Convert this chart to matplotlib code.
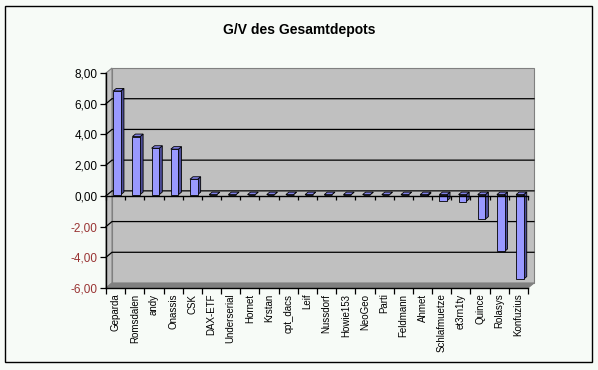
import numpy as np
import matplotlib.pyplot as plt
from matplotlib.patches import Rectangle, Polygon

plt.rcParams['font.family'] = ['Liberation Sans', 'DejaVu Sans']

# G/V per depot
names = ["Geparda", "Romsdalen", "andy", "Onassis", "CSK", "DAX-ETF",
         "Underserial", "Hornet", "Krstan", "cpt_dacs", "Leif", "Nussdorf",
         "Howie153", "NeoGeo", "Parti", "Feldmann", "Ahmet", "Schlafmuetze",
         "et3rn1ty", "Quince", "Rolasys", "Konfuzius"]
values = [6.75, 3.78, 3.02, 2.96, 1.0, 0.0,
          0.0, 0.0, 0.0, 0.0, 0.0, 0.0,
          0.0, 0.0, 0.0, 0.0, -0.08, -0.4,
          -0.45, -1.6, -3.7, -5.5]
y_ticks = [-6, -4, -2, 0, 2, 4, 6, 8]

W, H = 598, 370
n = len(names)
ymin, ymax = y_ticks[0], y_ticks[-1]

fig = plt.figure(figsize=(W / 100, H / 100), dpi=100, facecolor="#f7fbf7")
ax = fig.add_axes([106 / W, 82 / H, 422 / W, 215 / H])
ax.set_xlim(-0.5, n - 0.5)
ax.set_ylim(ymin, ymax)
ax.patch.set_visible(False)

# depth of the fake 3D box (6px right, 5px up) in data units
dx = 6 * n / 422
dy = 5 * (ymax - ymin) / 215
xl, xr = -0.5, n - 0.5

# walls
ax.add_patch(Rectangle((xl + dx, ymin + dy), n, ymax - ymin, facecolor="#c0c0c0",
                       edgecolor="#808080", lw=0.8, zorder=0, clip_on=False))
ax.add_patch(Polygon([(xl, ymin), (xl, ymax), (xl + dx, ymax + dy), (xl + dx, ymin + dy)],
                     closed=True, facecolor="#c0c0c0", edgecolor="#808080", lw=0.8,
                     zorder=0, clip_on=False))
ax.add_patch(Polygon([(xl, ymin), (xr, ymin), (xr + dx, ymin + dy), (xl + dx, ymin + dy)],
                     closed=True, facecolor="#808080", edgecolor="#808080", lw=0.8,
                     zorder=0, clip_on=False))

# gridlines on side and back wall
for v in y_ticks[1:-1]:
    ax.plot([xl, xl + dx, xr + dx], [v, v + dy, v + dy], color="black", lw=0.9,
            zorder=1, clip_on=False)

# bars
bw = 0.4
x = np.arange(n)
b = 0.25 * dy
xs = x + 0.25 * dx
ddx, ddy = 0.5 * dx, 0.5 * dy
for xi, v in zip(xs, values):
    x0, x1 = xi - bw / 2, xi + bw / 2
    top = b + max(v, 0)
    ax.add_patch(Polygon([(x1, b), (x1, b + v), (x1 + ddx, b + v + ddy), (x1 + ddx, b + ddy)],
                         closed=True, facecolor="#4d4d99", edgecolor="black", lw=0.6,
                         zorder=3, clip_on=False))
    ax.add_patch(Polygon([(x0, top), (x1, top), (x1 + ddx, top + ddy), (x0 + ddx, top + ddy)],
                         closed=True, facecolor="#8080e6", edgecolor="black", lw=0.6,
                         zorder=3, clip_on=False))
ax.bar(xs, values, width=bw, bottom=b, color="#9999ff", edgecolor="black", lw=0.6, zorder=4)

# category axis at zero
bounds = np.arange(n + 1) - 0.5
ax.plot([xl, xr], [0, 0], color="black", lw=1, zorder=5, clip_on=False)
ax.plot(bounds, np.zeros(n + 1), ls="none", marker=3, markersize=3,
        color="black", markeredgewidth=0.9, zorder=5, clip_on=False)

for s in ["top", "right"]:
    ax.spines[s].set_visible(False)
ax.spines["left"].set_linewidth(1)
ax.spines["bottom"].set_linewidth(1)

ax.set_yticks(y_ticks)
ax.set_yticklabels([f"{v:.2f}".replace(".", ",") for v in y_ticks], fontsize=8.5)
for lbl, v in zip(ax.get_yticklabels(), y_ticks):
    if v < 0:
        lbl.set_color("#993333")
ax.tick_params(axis="y", direction="out", length=4, width=0.9, pad=2)

ax.set_xticks(bounds)
ax.set_xticklabels([])
ax.tick_params(axis="x", which="major", direction="out", length=4, width=0.9)
ax.set_xticks(x, minor=True)
ax.set_xticklabels(names, minor=True, rotation=90, fontsize=7)
ax.tick_params(axis="x", which="minor", length=0, pad=4)

fig.text(299 / W, 1 - 30 / H, "G/V des Gesamtdepots", ha="center", va="center",
         fontsize=10, fontweight="bold")

fig.add_artist(Rectangle((5 / W, 8 / H), 587 / W, 356 / H, transform=fig.transFigure,
                         fill=False, edgecolor="black", lw=1))

fig.savefig("out.png", dpi=100, facecolor=fig.get_facecolor())
